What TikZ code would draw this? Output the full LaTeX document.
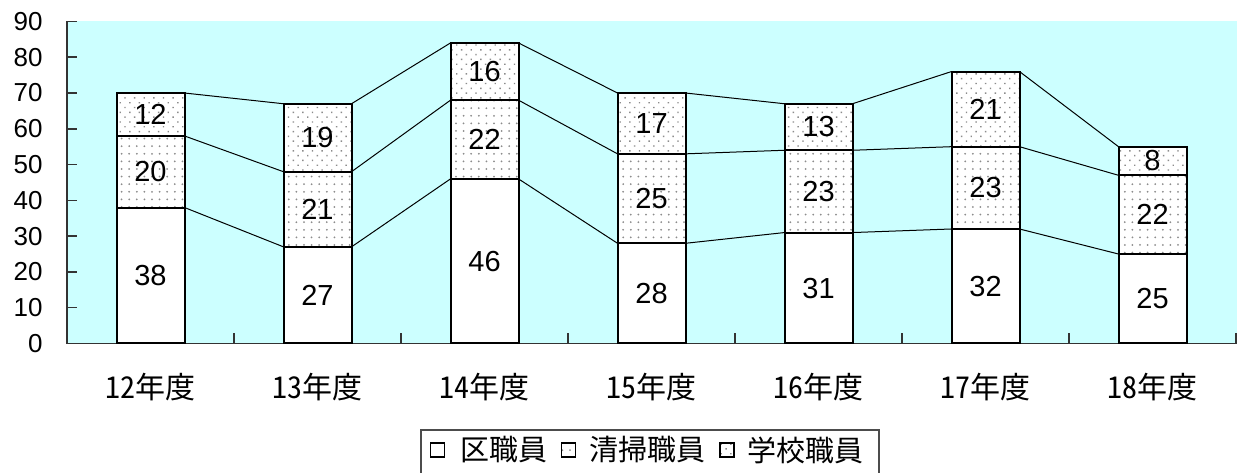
\documentclass[tikz,border=0pt]{standalone}
\usepackage{fontspec}
\setmainfont{Liberation Sans}
\newfontfamily\jpfont[RawFeature=+hwid]{Noto Sans CJK JP}
\usetikzlibrary{patterns.meta,positioning}
\definecolor{fonplot}{RGB}{204,255,255}
\tikzset{
  seg/.style={draw,line width=1pt,minimum width=34pt,inner sep=0pt,outer sep=0pt,
    font=\fontsize{14.5}{14.5}\selectfont},
  ku/.style={seg,fill=white},
  seiso/.style={seg,preaction={fill=white},pattern={Dots[radius=0.5pt,distance=3.8pt]},pattern color=black!45},
  gakko/.style={seg,preaction={fill=white},pattern={Dots[radius=0.5pt,distance=3.4pt,angle=45]},pattern color=black!45},
  ylab/.style={anchor=east,inner sep=0pt,font=\fontsize{13}{13}\selectfont},
  xlab/.style={inner sep=0pt,font=\jpfont\fontsize{15}{15}\selectfont},
  legsq/.style={draw,line width=0.8pt,minimum size=7pt,inner sep=0pt,outer sep=0pt},
  legtxt/.style={inner sep=0pt,font=\jpfont\fontsize{14.5}{14.5}\selectfont}
}
\begin{document}
\begin{tikzpicture}[x=83.5pt,y=1.789pt]
\useasboundingbox (-0.4012,-36.19) rectangle (7.006,96.0);
%Построение области графика
\fill[fonplot] (0,0) rectangle (7.006,90);
\draw[black!80,line width=0.8pt] (0,90) -- (0,0) -- (7.006,0);
%Построение делений и подписей оси Y
\foreach \v in {0,10,...,90}{
  \draw[black!80,line width=0.8pt] (0,\v) -- ++(5pt,0pt);
  \node[ylab] (y\v) at ([xshift=-12pt]0,\v) {\v};
}
\foreach \n in {1,...,7}
  \draw[black!80,line width=0.8pt] (\n,0) -- ++(0pt,5pt);
%Построение столбцов
\foreach \n/\a/\b/\c/\yr in {0/38/20/12/１２,1/27/21/19/１３,2/46/22/16/１４,3/28/25/17/１５,
    4/31/23/13/１６,5/32/23/21/１７,6/25/22/8/１８}{
  \node[ku,minimum height=\a*1.789pt] (b\n-1) at (\n+0.5,\a/2) {\a};
  \node[seiso,minimum height=\b*1.789pt] (b\n-2) at (\n+0.5,\a+\b/2) {\b};
  \node[gakko,minimum height=\c*1.789pt] (b\n-3) at (\n+0.5,\a+\b+\c/2) {\c};
  \node[xlab] (c\n) at (\n+0.5,-12.16) {\yr 年度};
}
%Линии между столбцами
\foreach \n [count=\m] in {0,...,5}
  \foreach \k in {1,2,3}
    \draw[line width=0.5pt] (b\n-\k.north east) -- (b\m-\k.north west);
%Легенда
\draw[black!70,line width=0.6pt] (2.12,-40) rectangle (4.862,-24.18);
\node[legsq,fill=white] (k1) at (2.2186,-29.77) {};
\node[legtxt,right=8pt of k1] (t1) {区職員};
\node[legsq,preaction={fill=white},pattern={Dots[radius=0.5pt,distance=3.8pt]},pattern color=black!45,right=6.5pt of t1] (k2) {};
\node[legtxt,right=7pt of k2] (t2) {清掃職員};
\node[legsq,preaction={fill=white},pattern={Dots[radius=0.5pt,distance=3.4pt,angle=45]},pattern color=black!45,right=7pt of t2] (k3) {};
\node[legtxt,right=6.5pt of k3] (t3) {学校職員};
\end{tikzpicture}
\end{document}
